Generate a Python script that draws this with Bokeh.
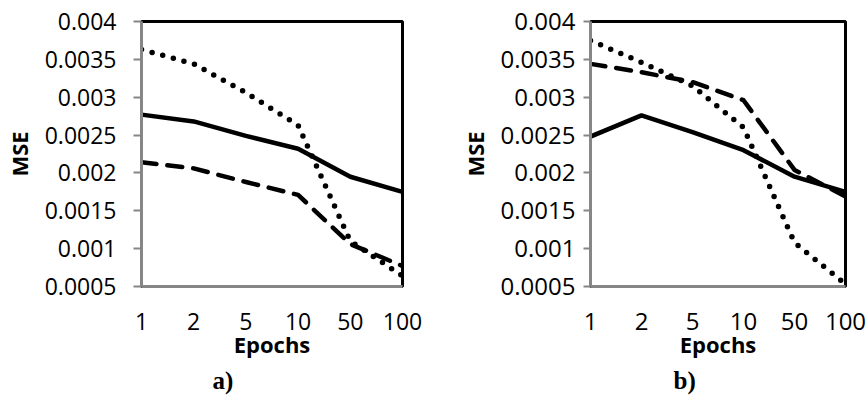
from bokeh.plotting import figure
from bokeh.layouts import row
from bokeh.models import Range1d, FixedTicker, NumeralTickFormatter, Title
from bokeh.embed import file_html
from bokeh.resources import INLINE

# ---- data ----
epochs = ["1", "2", "5", "10", "50", "100"]
y_ticks = [0.0005, 0.001, 0.0015, 0.002, 0.0025, 0.003, 0.0035, 0.004]

a_solid = [0.00277, 0.00268, 0.00249, 0.00232, 0.00195, 0.00175]
a_dotted = [0.00363, 0.00344, 0.00306, 0.00263, 0.00110, 0.00064]
a_dashed = [0.00214, 0.00206, 0.00188, 0.00171, 0.00106, 0.00077]

b_solid = [0.00248, 0.00276, 0.00254, 0.00230, 0.00195, 0.00175]
b_dotted = [0.00375, 0.00346, 0.00315, 0.00260, 0.00108, 0.00053]
b_dashed = [0.00344, 0.00333, 0.00320, 0.00296, 0.00204, 0.00169]

panel_tags = ["a)", "b)"]

AXIS_GREY = "#868686"
FONT = "Open Sans"


def make_panel(solid, dotted, dashed, tag, width, bl, br, bt, bb,
               ytick_out, ystandoff, ylabel_standoff, tag_dx, tick_fs):
    xs = list(range(len(epochs)))
    p = figure(width=width, height=398, output_backend="svg", toolbar_location=None,
               x_range=Range1d(0, len(epochs) - 1),
               y_range=Range1d(y_ticks[0], y_ticks[-1]),
               min_border_left=bl, min_border_right=br,
               min_border_top=bt, min_border_bottom=bb)
    p.background_fill_color = "white"
    p.border_fill_color = "white"
    p.outline_line_color = "black"
    p.outline_line_width = 3
    p.xgrid.visible = False
    p.ygrid.visible = False

    # x axis
    xa = p.xaxis[0]
    xa.ticker = FixedTicker(ticks=xs)
    xa.major_label_overrides = {i: lab for i, lab in enumerate(epochs)}
    xa.major_tick_line_color = None
    xa.minor_tick_line_color = None
    xa.axis_line_color = AXIS_GREY
    xa.axis_line_width = 3
    xa.major_label_text_font = FONT
    xa.major_label_text_font_size = tick_fs
    xa.major_label_text_color = "black"
    xa.major_label_standoff = 20
    xa.axis_label = "Epochs"
    xa.axis_label_text_font = FONT
    xa.axis_label_text_font_style = "bold"
    xa.axis_label_text_font_size = "22px"
    xa.axis_label_text_color = "black"
    xa.axis_label_standoff = -4

    # y axis
    ya = p.yaxis[0]
    ya.ticker = FixedTicker(ticks=y_ticks)
    ya.formatter = NumeralTickFormatter(format="0.[0000]")
    ya.major_tick_line_color = AXIS_GREY
    ya.major_tick_line_width = 2
    ya.major_tick_out = ytick_out
    ya.major_tick_in = 0
    ya.minor_tick_line_color = None
    ya.axis_line_color = AXIS_GREY
    ya.axis_line_width = 3
    ya.major_label_text_font = FONT
    ya.major_label_text_font_size = tick_fs
    ya.major_label_text_color = "black"
    ya.major_label_standoff = ystandoff
    ya.axis_label = "MSE"
    ya.axis_label_text_font = FONT
    ya.axis_label_text_font_style = "bold"
    ya.axis_label_text_font_size = "22px"
    ya.axis_label_text_color = "black"
    ya.axis_label_standoff = ylabel_standoff

    p.line(xs, solid, line_color="black", line_width=4.5, line_join="round")
    p.line(xs, dotted, line_color="black", line_width=5.5, line_dash="0 11",
           line_cap="round", line_join="round")
    p.line(xs, dashed, line_color="black", line_width=4.5, line_dash="15 11",
           line_cap="round", line_join="round")

    p.add_layout(Title(text=tag, align="left", offset=tag_dx,
                       text_font="Liberation Serif", text_font_style="bold",
                       text_font_size="25px", text_color="black", standoff=6),
                 "below")
    return p


pa = make_panel(a_solid, a_dotted, a_dashed, panel_tags[0], 440,
                137, 38, 18, 112, 8, 17, 8, 71, "23px")
pb = make_panel(b_solid, b_dotted, b_dashed, panel_tags[1], 427,
                150, 22, 21, 111, 7, 8, 8, 83, "24px")

layout = row(pa, pb)
open("out.html", "w").write(file_html(layout, INLINE))
